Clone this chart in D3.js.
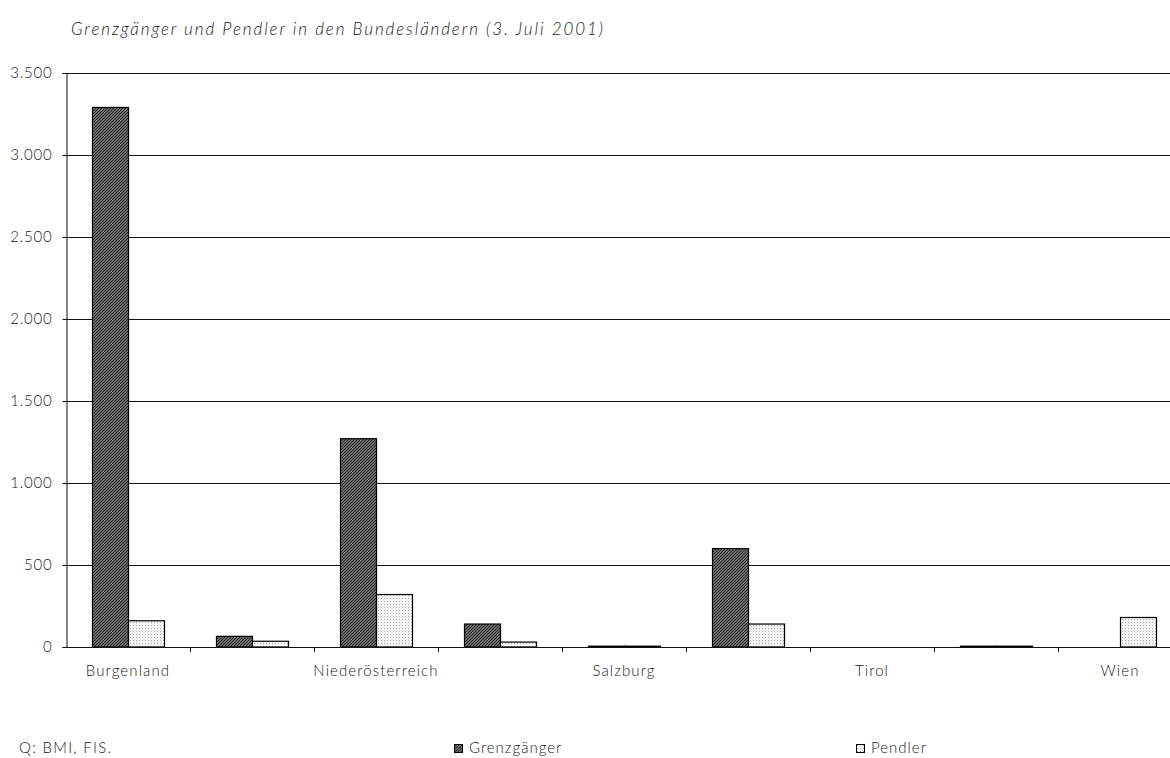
<!DOCTYPE html>
<html>
<head>
<meta charset="utf-8">
<script src="https://cdn.jsdelivr.net/npm/d3@7"></script>
<style>
  html, body { margin: 0; padding: 0; background: #fff; }
  svg text { font-family: Lato, "Open Sans", sans-serif; font-weight: 300; fill: #1a1a1a; }
</style>
</head>
<body>
<svg id="chart" width="1170" height="758"></svg>
<script>
// Bundesländer (every other one carries a visible axis label)
const states = ["Burgenland", "Kärnten", "Niederösterreich", "Oberösterreich",
                "Salzburg", "Steiermark", "Tirol", "Vorarlberg", "Wien"];
const shownLabels = ["Burgenland", "Niederösterreich", "Salzburg", "Tirol", "Wien"];
const grenzgaenger = [3290, 65, 1270, 140, 5, 600, 0, 5, 0];
const pendler      = [160, 35, 320, 30, 5, 140, 0, 5, 180];
const seriesNames  = ["Grenzgänger", "Pendler"];
const yTicks = [0, 500, 1000, 1500, 2000, 2500, 3000, 3500];

const title = "Grenzgänger und Pendler in den Bundesländern (3. Juli 2001)";
const source = "Q: BMI, FIS.";

const svg = d3.select("#chart");
const de = d3.formatLocale({ decimal: ",", thousands: ".", grouping: [3], currency: ["", " €"] });
const fmt = de.format(",d");

const plotLeft = 66, plotTop = 73, plotBottom = 647;
const bandW = 124;

// fill patterns
const defs = svg.append("defs");
const hatch = defs.append("pattern").attr("id", "hatch")
  .attr("patternUnits", "userSpaceOnUse").attr("width", 3).attr("height", 3);
hatch.append("rect").attr("width", 3).attr("height", 3).attr("fill", "#858585");
hatch.append("path").attr("d", "M-1,1 l2,-2 M0,3 l3,-3 M2,4 l2,-2")
  .attr("stroke", "#262626").attr("stroke-width", 1.1);

const dots = defs.append("pattern").attr("id", "dots")
  .attr("patternUnits", "userSpaceOnUse").attr("width", 3).attr("height", 3);
dots.append("rect").attr("width", 3).attr("height", 3).attr("fill", "#f4f4f4");
dots.append("rect").attr("x", 1).attr("y", 1).attr("width", 1).attr("height", 1).attr("fill", "#b0b0b0");

const fills = ["url(#hatch)", "url(#dots)"];

const x = d3.scaleBand().domain(states)
  .range([plotLeft, plotLeft + bandW * states.length]).padding(0);
const xInner = d3.scaleBand().domain(seriesNames)
  .range([0, bandW]).paddingInner(0).paddingOuter(26 / 36);
const y = d3.scaleLinear().domain([0, 3500]).range([plotBottom, plotTop]);

// title
svg.append("text").attr("x", 71).attr("y", 35)
  .attr("font-size", 17).attr("font-style", "italic").attr("letter-spacing", 1.9)
  .text(title);

// gridlines
svg.append("g").selectAll("line").data(yTicks.filter(d => d > 0)).join("line")
  .attr("x1", plotLeft).attr("x2", 1170)
  .attr("y1", d => Math.round(y(d)) + 0.5).attr("y2", d => Math.round(y(d)) + 0.5)
  .attr("stroke", "#111").attr("stroke-width", 1);

// y axis
const yAxis = svg.append("g").attr("transform", `translate(${plotLeft + 0.5},0)`)
  .call(d3.axisLeft(y).tickValues(yTicks).tickFormat(fmt).tickSize(4).tickPadding(10));
yAxis.select(".domain").attr("stroke", "#111");
yAxis.selectAll(".tick line").attr("stroke", "#111");
yAxis.selectAll("text").attr("font-size", 15).attr("letter-spacing", 0.8)
  .attr("font-family", "Lato, sans-serif").attr("font-weight", 300).attr("fill", "#1a1a1a");

// bars
const data = states.map((s, i) => ({ state: s, values: [grenzgaenger[i], pendler[i]] }));
const groups = svg.append("g").selectAll("g").data(data).join("g")
  .attr("transform", d => `translate(${x(d.state)},0)`);
groups.selectAll("rect")
  .data(d => d.values.map((v, j) => ({ series: seriesNames[j], value: v, j })).filter(e => e.value > 0))
  .join("rect")
  .attr("x", d => xInner(d.series) + 0.5)
  .attr("width", xInner.bandwidth())
  .attr("y", d => y(d.value))
  .attr("height", d => plotBottom - y(d.value))
  .attr("fill", d => fills[d.j])
  .attr("stroke", "#000").attr("stroke-width", 1.2);

// x axis
const boundaries = states.map((s, i) => plotLeft + bandW * (i + 1));
const xAxis = svg.append("g");
xAxis.append("line").attr("x1", plotLeft).attr("x2", 1170)
  .attr("y1", plotBottom + 0.5).attr("y2", plotBottom + 0.5).attr("stroke", "#111");
xAxis.selectAll("line.tk").data(boundaries).join("line").attr("class", "tk")
  .attr("x1", d => d + 0.5).attr("x2", d => d + 0.5)
  .attr("y1", plotBottom).attr("y2", plotBottom + 5).attr("stroke", "#111");
xAxis.selectAll("text").data(states.filter(s => shownLabels.includes(s))).join("text")
  .attr("x", d => x(d) + bandW / 2).attr("y", 676)
  .attr("text-anchor", "middle").attr("font-size", 15).attr("letter-spacing", 1.1)
  .text(d => d);

// source
svg.append("text").attr("x", 19).attr("y", 753).attr("font-size", 15)
  .attr("letter-spacing", 1.3).text(source);

// legend
const legendPos = [454, 856];
const legend = svg.append("g").selectAll("g").data(seriesNames).join("g")
  .attr("transform", (d, i) => `translate(${legendPos[i]},0)`);
legend.append("rect").attr("x", 0.5).attr("y", 744.5).attr("width", 8).attr("height", 8)
  .attr("fill", (d, i) => fills[i]).attr("stroke", "#000");
legend.append("text").attr("x", 15).attr("y", 753).attr("font-size", 15)
  .attr("letter-spacing", 1.0).text(d => d);
</script>
</body>
</html>
